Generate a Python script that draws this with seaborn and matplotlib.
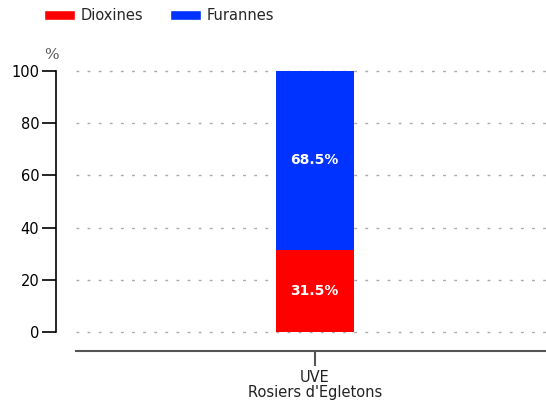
import matplotlib
matplotlib.use("Agg")
import matplotlib.pyplot as plt
import numpy as np
import pandas as pd
import seaborn as sns
from matplotlib.patches import Patch

sns.set_theme(style="white")
plt.rcParams["font.family"] = ["DejaVu Sans"]

sites = ["UVE\nRosiers d'Egletons"]
dioxines = [31.5]
furannes = [68.5]
series_names = ["Dioxines", "Furannes"]
colors = ["#ff0000", "#0033ff"]

df = pd.DataFrame({"site": sites, "Dioxines": dioxines, "Furannes": furannes})
df["total"] = df["Dioxines"] + df["Furannes"]

fig = plt.figure(figsize=(5.46, 4.0), dpi=100)
ax = fig.add_axes([0.139, 0.1225, 0.861, 0.7325])

# grille pointillée derrière les barres
for v in range(0, 101, 20):
    ax.axhline(v, color="#aaaaaa", lw=1, ls=(0, (2, 6)), zorder=0)

sns.barplot(data=df, x="site", y="total", color=colors[1], width=0.166,
            saturation=1, linewidth=0, ax=ax, zorder=2)
sns.barplot(data=df, x="site", y="Dioxines", color=colors[0], width=0.166,
            saturation=1, linewidth=0, ax=ax, zorder=3)

for i, row in df.iterrows():
    ax.text(i, row["Dioxines"] / 2, f"{row['Dioxines']:.1f}%", color="white",
            ha="center", va="center", fontsize=10, fontweight="bold", zorder=4)
    ax.text(i, row["Dioxines"] + row["Furannes"] / 2, f"{row['Furannes']:.1f}%",
            color="white", ha="center", va="center", fontsize=10,
            fontweight="bold", zorder=4)

ax.set_xlim(-0.508, 0.492)
ax.set_ylim(-7.3, 105)
ax.set_yticks(range(0, 101, 20))
ax.set_xlabel("")
ax.set_ylabel("")

for s in ["top", "right"]:
    ax.spines[s].set_visible(False)
ax.spines["left"].set_position(("outward", 14.4))
ax.spines["left"].set_bounds(0, 100)
ax.spines["left"].set_color("black")
ax.spines["left"].set_linewidth(1.2)
ax.spines["bottom"].set_color("#555555")
ax.spines["bottom"].set_linewidth(1.5)

ax.tick_params(axis="y", left=True, length=10, width=1.2, color="black",
               labelsize=10.5, pad=2, labelcolor="black")
ax.tick_params(axis="x", bottom=True, length=11, width=1.5, color="#555555",
               labelsize=10.5, pad=3, labelcolor="#222222")
for lab in ax.get_xticklabels():
    lab.set_linespacing(0.95)

ax.text(-0.051, 1.01, "%", transform=ax.transAxes, ha="center",
        va="center", fontsize=11, color="#555555", family="DejaVu Serif")

handles = [Patch(facecolor=c, label=n) for c, n in zip(colors, series_names)]
fig.legend(handles=handles, loc="upper left", bbox_to_anchor=(0.056, 1.012),
           ncol=2, frameon=False, fontsize=10.5, handlelength=2.15,
           handleheight=0.7, columnspacing=1.8, handletextpad=0.4)

fig.savefig("out.png", dpi=100)
